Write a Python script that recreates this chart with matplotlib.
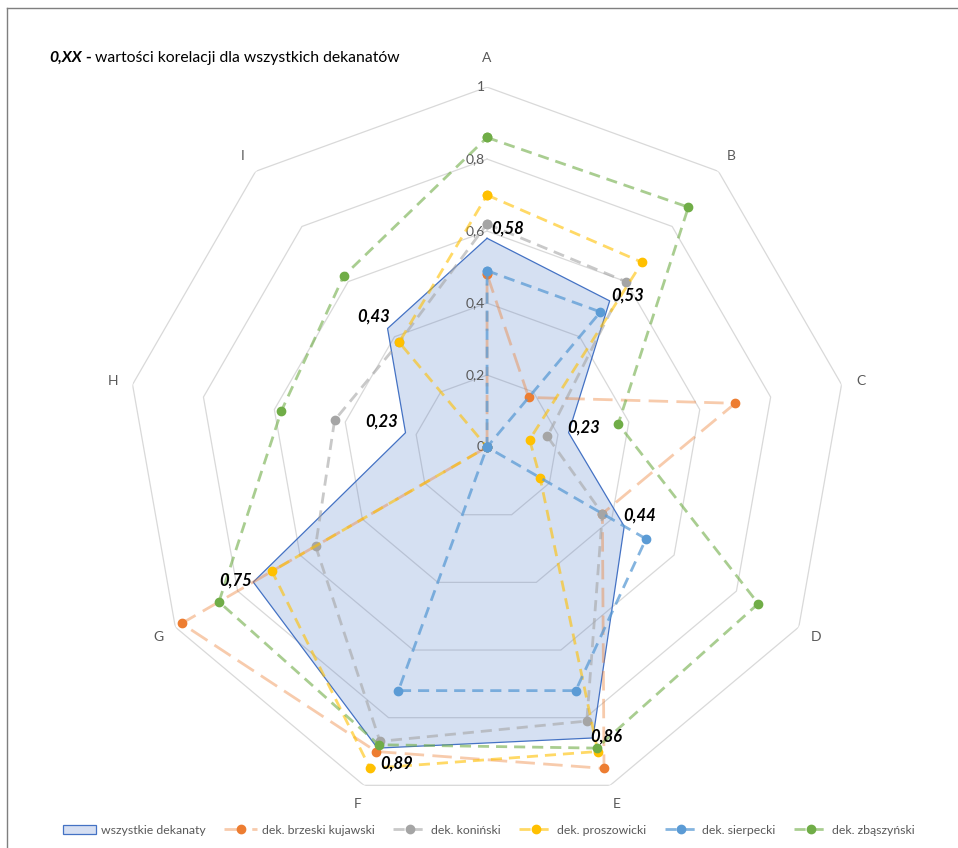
import numpy as np
import matplotlib
matplotlib.use("Agg")
import matplotlib.pyplot as plt
from matplotlib.lines import Line2D
from matplotlib.patches import Patch

plt.rcParams['font.family'] = ['Lato', 'DejaVu Sans']

# dane
kategorie = ['A', 'B', 'C', 'D', 'E', 'F', 'G', 'H', 'I']
wszystkie = [0.58, 0.53, 0.23, 0.44, 0.86, 0.89, 0.75, 0.23, 0.43]
brzeski = [0.48, 0.18, 0.70, 0.37, 0.95, 0.90, 0.98, 0.0, 0.0]
koninski = [0.62, 0.60, 0.17, 0.37, 0.81, 0.87, 0.55, 0.43, 0.38]
proszowicki = [0.70, 0.67, 0.12, 0.17, 0.90, 0.95, 0.69, 0.0, 0.38]
sierpecki = [0.49, 0.49, 0.0, 0.51, 0.72, 0.72, 0.0, 0.0, 0.0]
zbaszynski = [0.86, 0.87, 0.37, 0.87, 0.89, 0.88, 0.86, 0.58, 0.62]
etykiety_wart = ['0,58', '0,53', '0,23', '0,44', '0,86', '0,89', '0,75', '0,23', '0,43']
poziomy = [0, 0.2, 0.4, 0.6, 0.8, 1.0]
poziomy_tekst = ['0', '0,2', '0,4', '0,6', '0,8', '1']

serie = [
    ('dek. brzeski kujawski', brzeski, '#ED7D31', 0.4, (7, 3)),
    ('dek. koniński', koninski, '#A5A5A5', 0.6, (4, 2.5)),
    ('dek. proszowicki', proszowicki, '#FFC000', 0.6, (4, 2.5)),
    ('dek. sierpecki', sierpecki, '#5B9BD5', 0.75, (4, 2.5)),
    ('dek. zbąszyński', zbaszynski, '#70AD47', 0.6, (4, 2.5)),
]

n = len(kategorie)
theta = np.deg2rad(np.arange(n) * 360 / n)
theta_c = np.append(theta, theta[0])


def zamknij(v):
    return np.append(v, v[0])


fig = plt.figure(figsize=(9.58, 8.48), dpi=100)
ax = fig.add_axes([0.1326, 0.0483, 0.7516, 0.849], projection='polar')
ax.set_theta_offset(np.pi / 2)
ax.set_theta_direction(-1)
ax.set_ylim(0, 1)
ax.set_axis_off()

# siatka wielokątna
for p in poziomy[1:]:
    ax.plot(theta_c, [p] * (n + 1), color='#D9D9D9', lw=0.9, zorder=1)

# etykiety osi
for t, p in zip(poziomy_tekst, poziomy):
    ax.annotate(t, xy=(0, p), xytext=(-2, 0), textcoords='offset pixels',
                ha='right', va='center', fontsize=10, color='#595959')
for th, k in zip(theta, kategorie):
    r = 1.08 if th == 0 else 1.055
    ax.text(th, r, k, ha='center', va='center', fontsize=10, color='#595959')

# wszystkie dekanaty
ax.fill(theta_c, zamknij(wszystkie), color='#4472C4', alpha=0.22, zorder=2, lw=0)
ax.plot(theta_c, zamknij(wszystkie), color='#4472C4', lw=0.9, zorder=3)

handles = [Patch(facecolor='#D6DFF2', edgecolor='#4472C4', lw=0.9, label='wszystkie dekanaty')]
for nazwa, wart, kol, a, dash in serie:
    rgba = matplotlib.colors.to_rgba(kol, a)
    ln, = ax.plot(theta_c, zamknij(wart), color=rgba, lw=2, dashes=dash,
                  marker='o', markersize=6, markerfacecolor=kol, markeredgecolor=kol,
                  zorder=4, label=nazwa)
    handles.append(ln)

# wartości korelacji
przes = [(21, 10), (18, 5), (15, 5), (15, 11), (13, 1), (19, -15), (-18, 2), (-24, 11), (-14, 12)]
for th, v, t, o in zip(theta, wszystkie, etykiety_wart, przes):
    ax.annotate(t, xy=(th, v), xytext=o, textcoords='offset pixels', ha='center', va='center',
                fontsize=12, fontweight='bold', fontstyle='italic', color='black', zorder=6)

# tytuł
t1 = fig.text(49 / 958, 1 - 58 / 848, '0,XX', fontsize=11.3, fontweight='bold',
              fontstyle='italic', va='center', ha='left')
t2 = plt.annotate(' - ', xy=(1, 0.5), xycoords=t1, va='center', ha='left', fontsize=11.3,
                  fontweight='bold')
plt.annotate('wartości korelacji dla wszystkich dekanatów', xy=(1, 0.5), xycoords=t2,
             va='center', ha='left', fontsize=11.3)

# legenda
fig.legend(handles=handles, loc='center', bbox_to_anchor=(489 / 958, 1 - 830 / 848),
           ncol=6, frameon=False, fontsize=8.8, handlelength=2.7, columnspacing=1.5,
           handletextpad=0.4, labelcolor='#595959')

# ramka
fig.add_artist(Line2D([7 / 958, 1], [1 - 8 / 848, 1 - 8 / 848], color='#7F7F7F', lw=1))
fig.add_artist(Line2D([7 / 958, 7 / 958], [0, 1 - 8 / 848], color='#7F7F7F', lw=1))

fig.savefig('out.png', dpi=100)
